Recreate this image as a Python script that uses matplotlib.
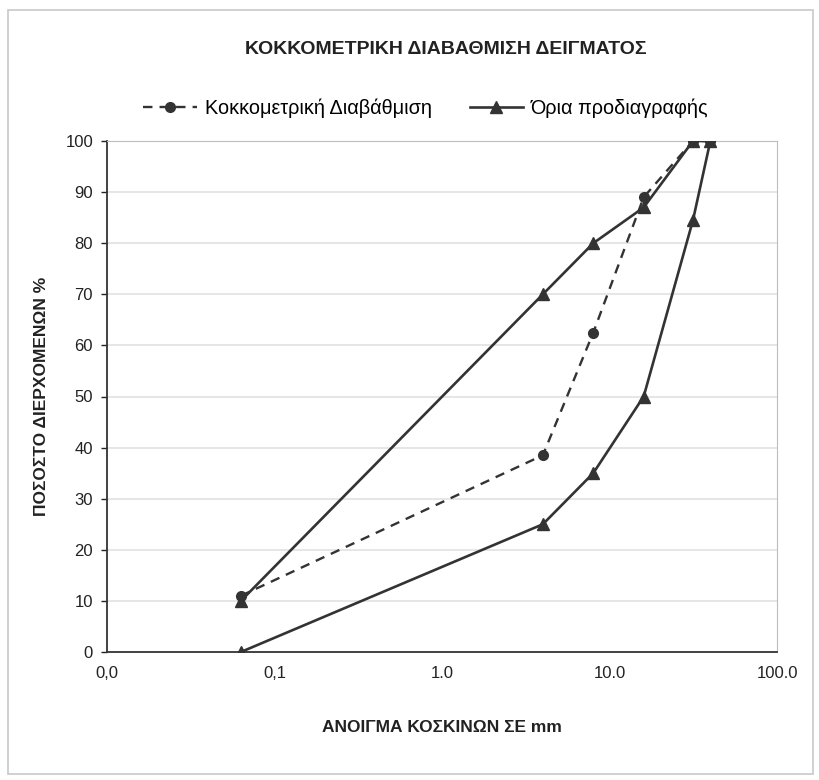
import numpy as np
import matplotlib.pyplot as plt
from matplotlib.patches import Rectangle

plt.rcParams['font.family'] = ['Liberation Sans', 'DejaVu Sans']

# sieve sizes (mm) and percent passing
sieve = [0.063, 4, 8, 16, 31.5, 40]
passing = [11, 38.5, 62.5, 89, 100, 100]

# specification envelope, drawn as one line: upper limit up, lower limit back down
spec_x = [0.063, 4, 8, 16, 31.5, 40, 31.5, 16, 8, 4, 0.063]
spec_y = [10, 70, 80, 87, 100, 100, 84.5, 50, 35, 25, 0]

xticks = [0.01, 0.1, 1, 10, 100]
xlabels = ['0,0', '0,1', '1.0', '10.0', '100.0']
yticks = list(range(0, 101, 10))

col = '#333333'

fig = plt.figure(figsize=(8.19, 7.80), dpi=100)
ax = fig.add_axes([107/819, 1 - 652/780, 670/819, 511/780])

for y in yticks[1:]:
    ax.axhline(y, color='#e2e2e2', lw=1.2, zorder=0)

ax.plot(sieve, passing, ls=(0, (4, 3)), color=col, lw=1.7, marker='o', ms=7,
        label='Κοκκομετρική Διαβάθμιση', zorder=3)
ax.plot(spec_x, spec_y, ls='-', color=col, lw=1.9, marker='^', ms=8,
        label='Όρια προδιαγραφής', zorder=4)

ax.set_xscale('log')
ax.set_xlim(0.01, 100)
ax.set_ylim(0, 100)
ax.set_xticks(xticks)
ax.set_xticklabels(xlabels)
ax.minorticks_off()
ax.set_yticks(yticks)
ax.tick_params(axis='x', length=0, pad=10, labelsize=12, colors='#222222')
ax.tick_params(axis='y', length=4, width=1, direction='out', pad=6, labelsize=12,
               colors='#222222')

for s in ['top', 'right']:
    ax.spines[s].set_color('#bdbdbd')
for s in ['left', 'bottom']:
    ax.spines[s].set_color('#333333')
    ax.spines[s].set_linewidth(1.3)

ax.set_xlabel('ΑΝΟΙΓΜΑ ΚΟΣΚΙΝΩΝ ΣΕ mm', fontsize=12.5, fontweight='bold', labelpad=28,
              color='#222222')
ax.set_ylabel('ΠΟΣΟΣΤΟ ΔΙΕΡΧΟΜΕΝΩΝ %', fontsize=12.5, fontweight='bold', labelpad=12,
              color='#222222')

fig.text(446/819, 1 - 50/780, 'ΚΟΚΚΟΜΕΤΡΙΚΗ ΔΙΑΒΑΘΜΙΣΗ ΔΕΙΓΜΑΤΟΣ', ha='center',
         va='center', fontsize=14, fontweight='bold', color='#222222')

fig.legend(loc='center', bbox_to_anchor=(426/819, 1 - 108/780), ncol=2, frameon=False,
           fontsize=14.3, handlelength=2.7, columnspacing=1.9, handletextpad=0.4)

# chart area border
fig.patches.append(Rectangle((8/819, 6/780), 805/819, 764/780, transform=fig.transFigure,
                             fill=False, edgecolor='#c8c8c8', lw=1.2))

fig.savefig('out.png', dpi=100)
